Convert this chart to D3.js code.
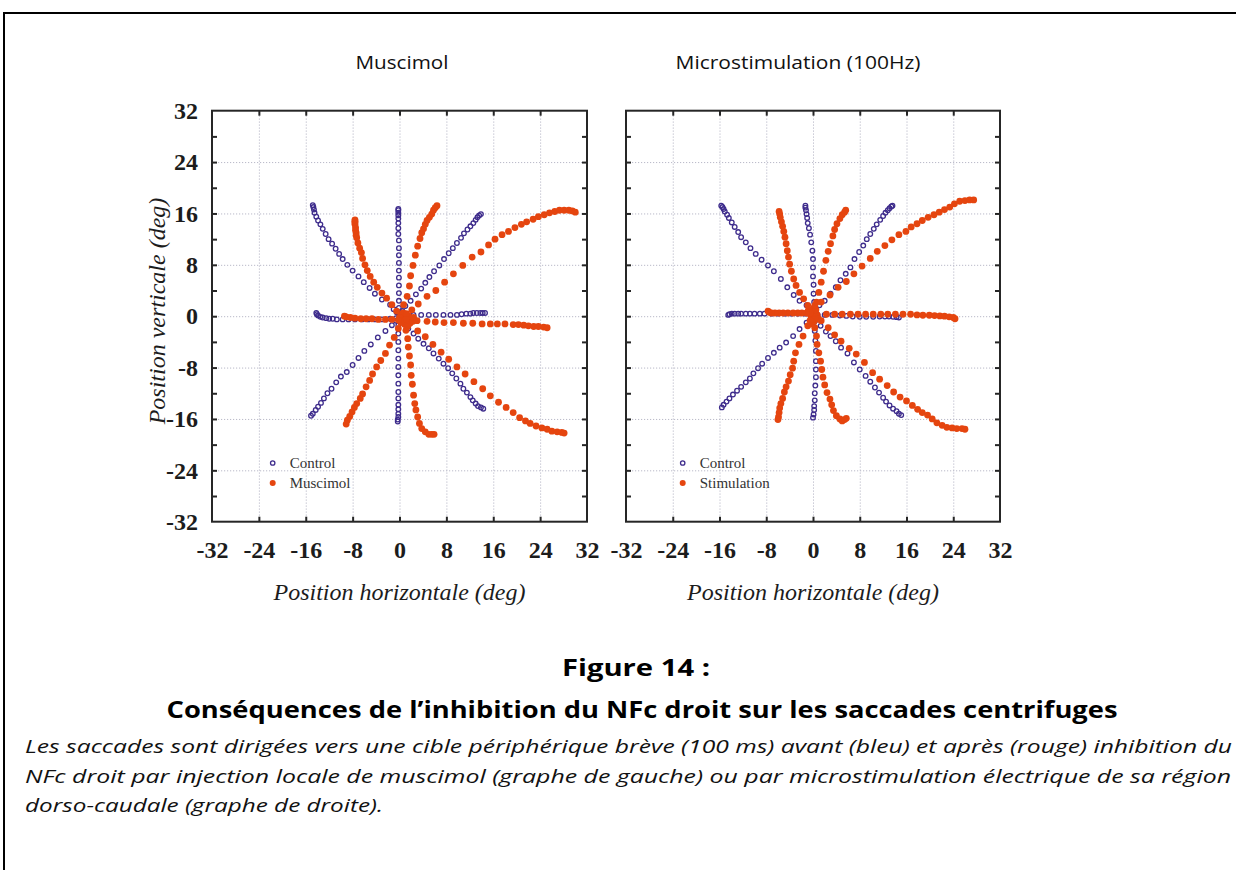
<!DOCTYPE html>
<html lang="fr">
<head>
<meta charset="utf-8">
<script src="https://cdn.jsdelivr.net/npm/d3@7"></script>
<style>
  body { margin: 0; background: #fff; }
  svg { display: block; }
  text { font-variant-ligatures: none; }
  .grid line { stroke: #b9b9c8; stroke-width: 1; stroke-dasharray: 1.2,1.8; }
  .frame-ticks line { stroke: #262626; stroke-width: 2; }
  .frame-ticks .domain { display: none; }
</style>
</head>
<body>
<div id="chart"></div>
<script>
// axis ticks (deg)
var tickValues = [-32, -24, -16, -8, 0, 8, 16, 24, 32];
var minorTicks = [-28, -24, -20, -16, -12, -8, -4, 0, 4, 8, 12, 16, 20, 24, 28];
var panelTitles = ["Muscimol", "Microstimulation (100Hz)"];
var legendLabels = [["Control", "Muscimol"], ["Control", "Stimulation"]];

// saccade trajectories, [x, y] in deg, one inner array per saccade
var muscimolControl = [
  [[0.3,0.3],[-0.5,0.6],[-1.0,1.1],[-1.6,1.8],[-3.0,2.6],[-4.2,3.5],[-5.1,4.4],[-6.1,5.3],[-7.0,6.2],[-8.0,7.1],[-8.9,8.0],[-9.7,8.9],[-10.3,9.7],[-10.9,10.5],[-11.5,11.3],[-12.1,12.0],[-12.6,12.8],[-13.1,13.6],[-13.5,14.3],[-13.9,14.9],[-14.2,15.5],[-14.5,16.1],[-14.6,16.6],[-14.7,17.0],[-14.8,17.3]],
  [[-0.1,0.4],[-0.1,1.3],[-0.1,2.4],[-0.1,3.6],[-0.1,4.8],[-0.1,6.0],[-0.1,7.1],[-0.1,8.3],[-0.1,9.5],[-0.1,10.6],[-0.1,11.8],[-0.2,12.8],[-0.2,13.7],[-0.2,14.5],[-0.2,15.2],[-0.2,15.7],[-0.2,16.1],[-0.2,16.5],[-0.2,16.7]],
  [[0.5,0.8],[1.0,1.6],[1.9,2.4],[2.8,3.4],[3.7,4.3],[4.4,5.2],[5.1,6.1],[5.9,7.0],[6.8,7.9],[7.6,8.9],[8.4,9.8],[9.1,10.6],[9.8,11.4],[10.5,12.2],[11.0,12.9],[11.6,13.5],[12.1,14.0],[12.6,14.5],[13.0,15.0],[13.3,15.4],[13.6,15.7],[13.9,15.9]],
  [[1.2,0.1],[2.4,0.2],[3.7,0.2],[5.0,0.2],[6.2,0.2],[7.5,0.2],[8.7,0.2],[9.8,0.2],[10.6,0.3],[11.4,0.4],[12.1,0.4],[12.6,0.5],[13.2,0.5],[13.8,0.5],[14.2,0.5],[14.6,0.5]],
  [[0.8,-1.0],[1.5,-1.9],[2.4,-2.7],[3.2,-3.5],[4.1,-4.3],[5.0,-5.0],[5.8,-5.8],[6.7,-6.6],[7.5,-7.4],[8.3,-8.1],[9.0,-8.9],[9.7,-9.7],[10.4,-10.5],[10.9,-11.3],[11.5,-11.9],[12.1,-12.6],[12.5,-13.1],[13.0,-13.6],[13.4,-14.0],[13.9,-14.2],[14.3,-14.4]],
  [[-0.2,-0.5],[-0.2,-1.4],[-0.2,-2.7],[-0.2,-4.0],[-0.2,-5.3],[-0.2,-6.6],[-0.2,-7.9],[-0.2,-9.2],[-0.2,-10.5],[-0.2,-11.8],[-0.2,-12.8],[-0.2,-13.8],[-0.2,-14.5],[-0.2,-15.2],[-0.2,-15.7],[-0.3,-16.1],[-0.3,-16.4]],
  [[-0.6,-0.7],[-1.3,-1.4],[-2.4,-2.3],[-3.7,-3.3],[-4.9,-4.4],[-6.0,-5.4],[-7.0,-6.5],[-8.0,-7.6],[-9.0,-8.7],[-10.0,-9.4],[-10.8,-10.3],[-11.6,-11.3],[-12.3,-12.0],[-12.9,-12.8],[-13.4,-13.5],[-13.9,-14.1],[-14.3,-14.6],[-14.8,-15.2],[-15.1,-15.5]],
  [[-0.6,-0.3],[-1.6,-0.4],[-3.0,-0.5],[-4.2,-0.5],[-5.3,-0.5],[-6.4,-0.5],[-7.6,-0.5],[-8.7,-0.5],[-9.7,-0.5],[-10.7,-0.5],[-11.4,-0.4],[-12.0,-0.4],[-12.5,-0.3],[-13.1,-0.2],[-13.5,-0.1],[-13.9,0.1],[-14.1,0.3],[-14.2,0.5]]
];

var muscimolInjected = [
  [[0.3,0.2],[0.8,-0.1],[1.3,-0.4],[1.7,-0.7],[1.0,-0.9],[0.4,-0.6],[1.5,0.1],[2.0,-0.3],[0.6,0.5],[1.2,0.4],[0.9,-1.3],[1.8,-1.1],[0.0,-0.2],[2.3,-0.8],[1.1,-0.5],[1.4,-1.6],[2.4,-0.2],[0.2,-1.0]],
  [[-0.5,0.8],[-1.3,1.8],[-2.2,2.8],[-3.0,3.6],[-3.8,4.5],[-4.4,5.3],[-5.0,6.2],[-5.5,7.1],[-5.9,8.0],[-6.3,9.0],[-6.5,9.9],[-6.8,10.6],[-7.1,11.4],[-7.3,12.2],[-7.4,12.6],[-7.4,13.0],[-7.5,13.4],[-7.5,13.8],[-7.6,14.3],[-7.6,14.6],[-7.6,14.8],[-7.6,15.0]],
  [[0.7,1.8],[1.3,3.1],[1.7,4.7],[1.9,6.3],[2.3,7.9],[2.7,9.5],[3.1,10.9],[3.5,12.1],[3.8,13.0],[4.1,13.6],[4.4,14.3],[4.7,14.9],[5.1,15.4],[5.5,15.9],[5.8,16.5],[6.1,16.9],[6.4,17.2]],
  [[2.1,1.0],[3.2,1.9],[4.7,3.1],[6.2,4.0],[7.7,5.3],[9.2,6.6],[10.8,7.9],[12.4,9.2],[13.9,10.0],[15.2,11.1],[16.3,12.0],[17.5,12.7],[18.6,13.2],[19.7,13.8],[20.8,14.3],[21.7,14.7],[22.8,15.1],[23.7,15.5],[24.7,15.8],[25.6,16.1],[26.5,16.3],[27.3,16.5],[28.1,16.5],[28.9,16.5],[29.5,16.4],[30.0,16.2]],
  [[3.0,-0.7],[4.7,-0.8],[6.1,-0.9],[7.6,-1.0],[9.2,-1.0],[10.9,-1.1],[12.5,-1.1],[14.1,-1.2],[15.5,-1.2],[16.7,-1.2],[18.0,-1.2],[19.4,-1.3],[20.3,-1.3],[21.2,-1.4],[22.0,-1.5],[22.9,-1.6],[23.7,-1.6],[24.6,-1.7],[25.2,-1.8]],
  [[3.1,-2.3],[4.4,-3.2],[5.7,-4.4],[7.1,-5.6],[8.4,-6.7],[9.8,-7.9],[11.2,-9.0],[12.7,-10.2],[14.2,-11.3],[15.5,-12.4],[16.9,-13.4],[18.2,-14.2],[19.4,-15.0],[20.5,-15.8],[21.5,-16.3],[22.3,-16.7],[23.3,-17.1],[24.3,-17.4],[25.2,-17.6],[26.0,-17.9],[26.9,-18.0],[27.7,-18.1],[28.1,-18.2]],
  [[1.1,-2.2],[1.4,-3.5],[1.5,-4.8],[1.7,-6.2],[1.9,-7.6],[2.0,-9.2],[2.2,-10.6],[2.4,-12.3],[2.6,-13.6],[2.8,-14.6],[3.1,-15.7],[3.4,-16.7],[3.8,-17.5],[4.4,-18.0],[5.0,-18.4],[5.5,-18.4],[5.9,-18.4]],
  [[-0.2,-1.9],[-0.9,-3.3],[-1.7,-4.5],[-2.4,-5.8],[-3.2,-6.9],[-3.9,-7.9],[-4.6,-9.0],[-5.1,-10.0],[-5.7,-11.0],[-6.3,-12.1],[-6.7,-12.8],[-7.3,-13.6],[-7.7,-14.2],[-8.1,-14.9],[-8.5,-15.6],[-8.9,-16.2],[-9.1,-16.8]],
  [[-0.2,-0.6],[-1.3,-0.5],[-2.4,-0.5],[-3.6,-0.5],[-4.7,-0.4],[-5.7,-0.4],[-6.6,-0.4],[-7.6,-0.3],[-8.4,-0.2],[-9.1,-0.1],[-9.4,0.0]]
];

var stimControl = [
  [[-0.3,0.5],[-1.1,1.7],[-2.3,2.4],[-3.3,3.3],[-4.4,4.5],[-5.5,5.8],[-6.7,7.0],[-7.7,7.9],[-8.8,8.8],[-9.8,9.7],[-10.7,10.6],[-11.5,11.5],[-12.3,12.3],[-12.8,13.1],[-13.4,13.9],[-13.9,14.6],[-14.4,15.3],[-14.7,15.8],[-15.1,16.3],[-15.3,16.7],[-15.5,17.0],[-15.7,17.2]],
  [[0.2,0.8],[0.2,2.2],[0.1,3.5],[0.1,4.9],[0.0,6.2],[0.0,7.6],[0.0,8.9],[-0.1,10.2],[-0.3,11.5],[-0.5,12.7],[-0.7,13.7],[-0.9,14.5],[-1.0,15.3],[-1.1,15.9],[-1.2,16.5],[-1.3,16.9],[-1.3,17.2]],
  [[0.4,0.7],[1.1,1.7],[2.0,2.4],[3.0,3.5],[3.9,4.5],[4.7,5.6],[5.6,6.6],[6.4,7.6],[7.1,8.9],[7.9,10.0],[8.6,11.0],[9.2,12.0],[9.8,12.8],[10.4,13.6],[10.9,14.3],[11.5,15.0],[12.0,15.6],[12.4,16.1],[12.8,16.5],[13.1,16.8],[13.4,17.1],[13.6,17.2]],
  [[0.8,0.2],[2.0,0.2],[3.3,0.2],[4.6,0.1],[5.7,0.05],[6.8,-0.05],[8.0,-0.1],[9.1,-0.1],[10.3,-0.1],[11.4,-0.05],[12.3,-0.05],[13.0,-0.05],[13.7,-0.1],[14.3,-0.15],[14.7,-0.2]],
  [[0.5,-0.6],[1.3,-1.5],[2.2,-2.4],[3.0,-3.1],[3.9,-3.9],[4.8,-4.9],[5.9,-5.8],[7.0,-7.2],[8.0,-8.3],[9.0,-9.3],[9.8,-10.2],[10.6,-11.1],[11.3,-11.9],[12.0,-12.7],[12.5,-13.3],[13.1,-13.9],[13.7,-14.4],[14.3,-14.8],[14.7,-15.2],[15.1,-15.4]],
  [[0.2,-0.9],[0.3,-2.3],[0.4,-3.8],[0.5,-5.4],[0.5,-7.0],[0.5,-8.3],[0.5,-9.5],[0.4,-10.8],[0.3,-12.0],[0.3,-13.1],[0.2,-14.0],[0.2,-14.6],[0.1,-15.3],[0.0,-15.8]],
  [[-0.4,-0.4],[-1.1,-1.0],[-2.3,-2.0],[-3.4,-3.1],[-4.6,-4.1],[-5.7,-4.9],[-6.7,-5.7],[-7.7,-6.5],[-8.7,-7.4],[-9.4,-8.1],[-10.2,-8.9],[-10.8,-9.7],[-11.5,-10.3],[-12.3,-11.0],[-13.0,-11.6],[-13.7,-12.2],[-14.3,-12.8],[-14.8,-13.3],[-15.3,-13.8],[-15.6,-14.2]],
  [[-0.5,0.4],[-1.4,0.4],[-2.6,0.4],[-3.7,0.4],[-4.8,0.4],[-6.0,0.4],[-7.1,0.4],[-8.3,0.4],[-9.1,0.4],[-10.0,0.4],[-10.8,0.4],[-11.5,0.4],[-12.3,0.4],[-12.8,0.4],[-13.4,0.4],[-13.9,0.4],[-14.3,0.3],[-14.5,0.2]]
];

var stimApplied = [
  [[0.0,0.3],[0.4,0.7],[-0.4,0.9],[0.3,-0.3],[-0.3,-0.1],[0.7,0.2],[-0.6,0.4],[0.1,1.2],[0.2,-0.8],[-0.2,-1.2],[0.5,1.0],[-0.8,0.9],[0.0,-0.5],[0.9,-0.4],[-0.5,-0.7],[0.3,1.7]],
  [[-0.9,1.7],[-1.6,2.7],[-2.3,3.7],[-2.9,4.8],[-3.3,5.8],[-3.7,7.0],[-4.0,8.1],[-4.2,9.2],[-4.4,10.2],[-4.6,11.3],[-4.8,12.3],[-5.0,13.2],[-5.2,14.0],[-5.4,14.7],[-5.6,15.4],[-5.7,15.9],[-5.8,16.3]],
  [[0.6,2.2],[1.0,3.7],[1.4,5.3],[1.8,7.0],[2.2,8.7],[2.6,10.1],[3.0,11.3],[3.4,12.5],[3.7,13.5],[4.1,14.4],[4.6,15.2],[5.0,15.8],[5.4,16.2],[5.6,16.5]],
  [[1.4,2.2],[2.9,3.3],[4.3,4.5],[5.7,5.4],[7.0,6.6],[8.4,7.8],[9.8,9.0],[11.0,10.1],[12.3,11.0],[13.5,11.9],[14.7,12.7],[15.9,13.2],[16.8,13.9],[17.8,14.4],[18.7,14.9],[19.7,15.4],[20.7,15.8],[21.6,16.2],[22.5,16.6],[23.4,17.0],[24.2,17.5],[25.1,17.9],[26.0,18.0],[26.8,18.1],[27.5,18.1]],
  [[2.3,0.3],[3.7,0.3],[5.0,0.3],[6.4,0.3],[7.7,0.3],[9.0,0.3],[10.3,0.3],[11.6,0.3],[12.8,0.3],[14.1,0.3],[15.4,0.3],[16.7,0.3],[17.8,0.2],[18.8,0.15],[19.9,0.15],[20.8,0.1],[21.7,0.05],[22.5,0.0],[23.3,-0.1],[24.0,-0.2],[24.3,-0.4]],
  [[1.4,-0.7],[2.6,-1.8],[3.7,-2.9],[4.8,-3.9],[6.2,-5.0],[7.4,-5.9],[8.8,-7.2],[10.2,-8.8],[11.4,-9.8],[12.7,-10.8],[13.8,-11.8],[14.9,-12.6],[16.0,-13.2],[17.0,-13.9],[17.9,-14.5],[18.7,-15.0],[19.6,-15.4],[20.4,-16.0],[21.2,-16.6],[22.1,-17.0],[22.9,-17.3],[23.8,-17.4],[24.6,-17.5],[25.5,-17.5],[26.0,-17.6]],
  [[0.3,-1.8],[0.6,-3.1],[0.7,-4.4],[1.0,-5.7],[1.3,-7.0],[1.5,-8.3],[1.7,-9.5],[2.0,-10.7],[2.4,-11.9],[2.9,-12.9],[3.2,-13.8],[3.5,-14.7],[4.0,-15.5],[4.6,-16.0],[5.0,-16.3],[5.4,-16.1],[5.7,-15.9]],
  [[-0.9,-1.5],[-1.7,-3.1],[-2.4,-4.4],[-3.0,-5.7],[-3.3,-7.0],[-3.5,-8.1],[-3.9,-9.1],[-4.2,-10.1],[-4.6,-11.0],[-4.9,-11.8],[-5.2,-12.8],[-5.5,-13.6],[-5.7,-14.3],[-5.8,-15.0],[-5.9,-15.7],[-6.0,-16.1]],
  [[-0.5,0.5],[-1.1,0.5],[-1.9,0.5],[-2.6,0.5],[-3.4,0.5],[-4.3,0.5],[-5.1,0.5],[-5.8,0.5],[-6.5,0.5],[-7.1,0.5],[-7.5,0.6],[-7.7,0.8]]
];

var captionTitle = "Figure 14 :";
var captionSubtitle = "Conséquences de l\u2019inhibition du NFc droit sur les saccades centrifuges";
var captionLines = [
  "Les saccades sont dirigées vers une cible périphérique brève (100 ms) avant (bleu) et après (rouge) inhibition du",
  "NFc droit par injection locale de muscimol (graphe de gauche) ou par microstimulation électrique de sa région",
  "dorso-caudale (graphe de droite)."
];

var blue = "#3e2c8c", red = "#e5450f";
var serif = "'Liberation Serif', 'Times New Roman', serif";
var sans = "'Open Sans', Lato, sans-serif";

var svg = d3.select("#chart").append("svg")
    .attr("width", 1236)
    .attr("height", 870);

// page frame
svg.append("path")
    .attr("d", "M4,870V13H1236")
    .attr("fill", "none")
    .attr("stroke", "#000")
    .attr("stroke-width", 2);

var y = d3.scaleLinear().domain([-32, 32]).range([521.7, 110.7]);

var panels = [
  { x: d3.scaleLinear().domain([-32, 32]).range([212, 587]), title: panelTitles[0], titleX: 402, titleW: 93,
    control: muscimolControl, test: muscimolInjected, legend: legendLabels[0], legendX: 272.7, yAxis: true },
  { x: d3.scaleLinear().domain([-32, 32]).range([626, 1000]), title: panelTitles[1], titleX: 798, titleW: 245,
    control: stimControl, test: stimApplied, legend: legendLabels[1], legendX: 682.7, yAxis: false }
];

panels.forEach(function(p) {
  var left = p.x.range()[0], right = p.x.range()[1];
  var top = y.range()[1], bottom = y.range()[0];
  var g = svg.append("g");

  // dotted grid
  g.append("g").attr("class", "grid")
      .attr("transform", "translate(0," + bottom + ")")
      .call(d3.axisBottom(p.x).tickValues(tickValues.slice(1, -1)).tickSize(-(bottom - top)).tickFormat(""))
      .call(function(s) { s.select(".domain").remove(); });
  g.append("g").attr("class", "grid")
      .attr("transform", "translate(" + left + ",0)")
      .call(d3.axisLeft(y).tickValues(tickValues.slice(1, -1)).tickSize(-(right - left)).tickFormat(""))
      .call(function(s) { s.select(".domain").remove(); });

  // inner ticks on the frame
  g.append("g").attr("class", "frame-ticks")
      .attr("transform", "translate(" + left + ",0)")
      .call(d3.axisRight(y).tickValues(minorTicks).tickSize(5).tickFormat(""));
  g.append("g").attr("class", "frame-ticks")
      .attr("transform", "translate(" + right + ",0)")
      .call(d3.axisLeft(y).tickValues(minorTicks).tickSize(5).tickFormat(""));
  g.append("g").attr("class", "frame-ticks")
      .attr("transform", "translate(0," + top + ")")
      .call(d3.axisBottom(p.x).tickValues(tickValues.slice(1, -1)).tickSize(5).tickFormat(""));
  g.append("g").attr("class", "frame-ticks")
      .attr("transform", "translate(0," + bottom + ")")
      .call(d3.axisTop(p.x).tickValues(tickValues.slice(1, -1)).tickSize(5).tickFormat(""));

  g.append("rect")
      .attr("x", left).attr("y", top)
      .attr("width", right - left).attr("height", bottom - top)
      .attr("fill", "none")
      .attr("stroke", "#262626")
      .attr("stroke-width", 2);

  // tick labels
  var xLab = g.append("g")
      .attr("transform", "translate(0," + bottom + ")")
      .call(d3.axisBottom(p.x).tickValues(tickValues).tickSize(0).tickPadding(19)
            .tickFormat(function(d) { return String(d); }));
  xLab.select(".domain").remove();
  xLab.attr("font-family", serif).attr("font-size", 24).attr("font-weight", "bold")
      .style("color", "#1c1c1c");

  if (p.yAxis) {
    var yLab = g.append("g")
        .attr("transform", "translate(" + left + ",0)")
        .call(d3.axisLeft(y).tickValues(tickValues).tickSize(0).tickPadding(14)
              .tickFormat(function(d) { return String(d); }));
    yLab.select(".domain").remove();
    yLab.attr("font-family", serif).attr("font-size", 24).attr("font-weight", "bold")
        .style("color", "#1c1c1c");

    g.append("text")
        .attr("transform", "translate(165,311) rotate(-90)")
        .attr("text-anchor", "middle")
        .attr("font-family", serif)
        .attr("font-style", "italic")
        .attr("font-size", 24)
        .attr("fill", "#1c1c1c")
        .text("Position verticale (deg)");
  }

  g.append("text")
      .attr("x", p.x(0)).attr("y", 600)
      .attr("text-anchor", "middle")
      .attr("font-family", serif)
      .attr("font-style", "italic")
      .attr("font-size", 24)
      .attr("fill", "#1c1c1c")
      .text("Position horizontale (deg)");

  // panel title
  g.append("text")
      .attr("x", p.titleX).attr("y", 69)
      .attr("text-anchor", "middle")
      .attr("font-family", sans)
      .attr("font-size", 18)
      .attr("textLength", p.titleW).attr("lengthAdjust", "spacingAndGlyphs")
      .attr("fill", "#111")
      .text(p.title);

  // saccade samples
  g.append("g").selectAll("circle")
      .data(p.control.flat())
      .join("circle")
      .attr("cx", function(d) { return p.x(d[0]); })
      .attr("cy", function(d) { return y(d[1]); })
      .attr("r", 2.3)
      .attr("fill", "none")
      .attr("stroke", blue)
      .attr("stroke-width", 1.3);
  g.append("g").selectAll("circle")
      .data(p.test.flat())
      .join("circle")
      .attr("cx", function(d) { return p.x(d[0]); })
      .attr("cy", function(d) { return y(d[1]); })
      .attr("r", 3.4)
      .attr("fill", red);

  // legend
  var lg = g.append("g").attr("transform", "translate(" + p.legendX + ",463)");
  lg.append("circle").attr("r", 2.2).attr("fill", "none").attr("stroke", blue).attr("stroke-width", 1.3);
  lg.append("circle").attr("cy", 20).attr("r", 3).attr("fill", red);
  lg.selectAll("text").data(p.legend).join("text")
      .attr("x", 17)
      .attr("y", function(d, i) { return i * 20 + 5; })
      .attr("font-family", serif)
      .attr("font-size", 15)
      .attr("fill", "#333")
      .text(function(d) { return d; });
});

// caption
svg.append("text")
    .attr("x", 636).attr("y", 676)
    .attr("text-anchor", "middle")
    .attr("font-family", sans)
    .attr("font-weight", "bold")
    .attr("font-size", 23)
    .attr("textLength", 148).attr("lengthAdjust", "spacingAndGlyphs")
    .text(captionTitle);
svg.append("text")
    .attr("x", 642).attr("y", 718)
    .attr("text-anchor", "middle")
    .attr("font-family", sans)
    .attr("font-weight", "bold")
    .attr("font-size", 23)
    .attr("textLength", 951).attr("lengthAdjust", "spacingAndGlyphs")
    .text(captionSubtitle);

var lineWidths = [1207, 1206, 358];
svg.selectAll(".cap-line").data(captionLines).join("text")
    .attr("class", "cap-line")
    .attr("x", 25)
    .attr("y", function(d, i) { return 753 + i * 29.5; })
    .attr("font-family", sans)
    .attr("font-style", "italic")
    .attr("font-size", 19)
    .attr("textLength", function(d, i) { return lineWidths[i]; })
    .attr("lengthAdjust", "spacingAndGlyphs")
    .attr("fill", "#111")
    .text(function(d) { return d; });
</script>
</body>
</html>
